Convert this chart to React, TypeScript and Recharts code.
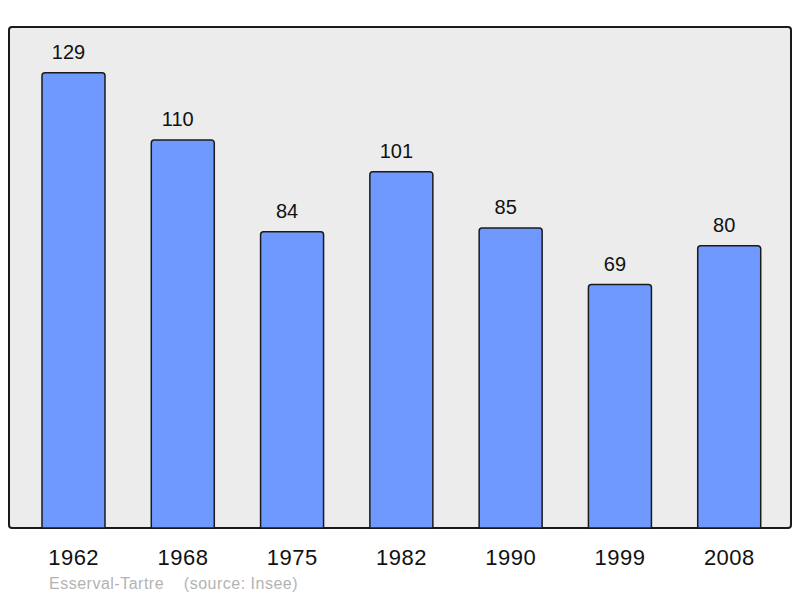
import { BarChart, Bar, XAxis, YAxis, LabelList } from "recharts";

const years = ["1962", "1968", "1975", "1982", "1990", "1999", "2008"];
const population = [129, 110, 84, 101, 85, 69, 80];
const commune = "Esserval-Tartre";
const source = "(source: Insee)";

const data = years.map((year, i) => ({ year, population: population[i] }));

const FONT = '"Liberation Sans", Arial, sans-serif';

export default function App() {
  return (
    <div style={{ position: "absolute", left: 0, top: 0, width: 800, height: 598, fontFamily: FONT }}>
      <div
        style={{
          position: "absolute",
          left: 8,
          top: 26,
          width: 784,
          height: 503,
          boxSizing: "border-box",
          border: "2px solid #1a1a1a",
          borderRadius: 4,
          background: "#ececec",
        }}
      />
      <div style={{ position: "absolute", left: 0, top: 0 }}>
        <BarChart
          width={800}
          height={598}
          data={data}
          margin={{ top: 27, right: 9, left: 9, bottom: 10 }}
        >
          <XAxis
            dataKey="year"
            height={60}
            padding={{ left: 10, right: 7 }}
            axisLine={false}
            tickLine={false}
            tickSize={0}
            tickMargin={21}
            interval={0}
            tick={{ fill: "#111", fontSize: 22, fontFamily: FONT, letterSpacing: 0.5 }}
          />
          <YAxis hide domain={[0, 142]} />
          <Bar
            dataKey="population"
            barSize={63}
            fill="#7099ff"
            stroke="#1a1a1a"
            strokeWidth={1.5}
            radius={[3, 3, 0, 0]}
            isAnimationActive={false}
          >
            <LabelList
              dataKey="population"
              position="top"
              offset={14}
              dx={-5}
              fill="#111"
              fontSize={20}
              fontFamily={FONT}
            />
          </Bar>
        </BarChart>
      </div>
      <div
        style={{
          position: "absolute",
          left: 49,
          top: 575,
          fontSize: 16,
          lineHeight: "18px",
          letterSpacing: 0.5,
          color: "#b3b3b3",
          whiteSpace: "pre",
        }}
      >
        {commune + "    " + source}
      </div>
    </div>
  );
}
